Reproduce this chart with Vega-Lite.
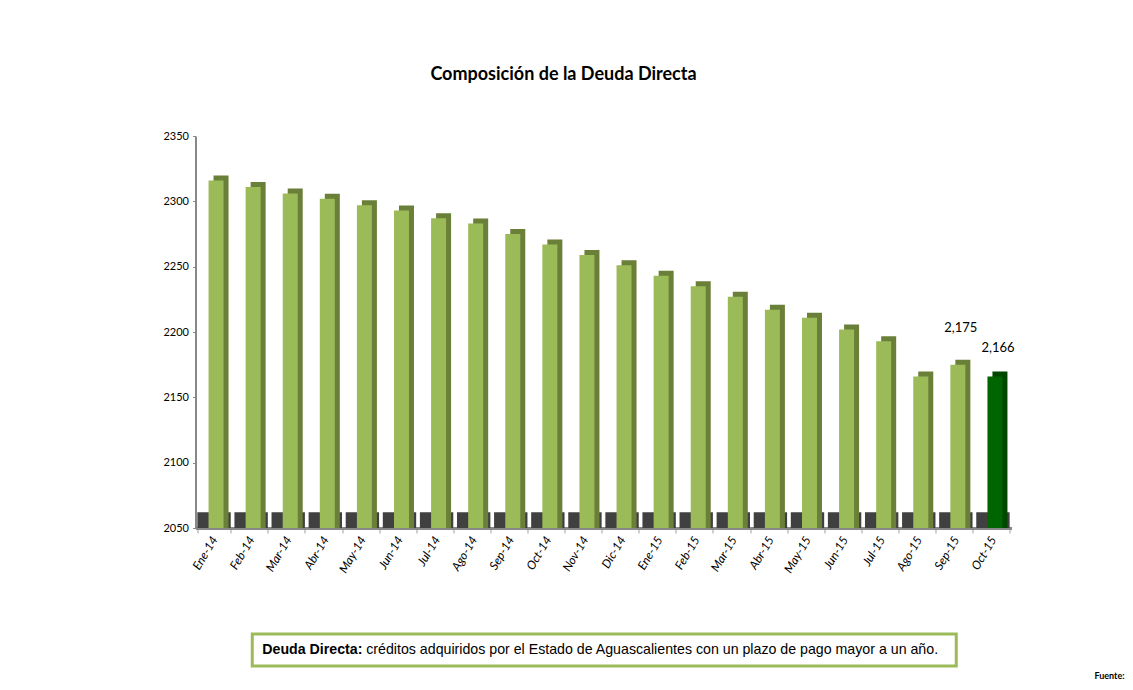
{
  "$schema": "https://vega.github.io/schema/vega-lite/v6.json",
  "padding": {"left": 162, "top": 66, "right": 5, "bottom": 5},
  "background": "white",
  "config": {"view": {"stroke": null}, "font": "Lato"},
  "datasets": {
    "deuda": [
      {"mes": "Ene-14", "valor": 2316},
      {"mes": "Feb-14", "valor": 2311},
      {"mes": "Mar-14", "valor": 2306},
      {"mes": "Abr-14", "valor": 2302},
      {"mes": "May-14", "valor": 2297},
      {"mes": "Jun-14", "valor": 2293},
      {"mes": "Jul-14", "valor": 2287},
      {"mes": "Ago-14", "valor": 2283},
      {"mes": "Sep-14", "valor": 2275},
      {"mes": "Oct-14", "valor": 2267},
      {"mes": "Nov-14", "valor": 2259},
      {"mes": "Dic-14", "valor": 2251},
      {"mes": "Ene-15", "valor": 2243},
      {"mes": "Feb-15", "valor": 2235},
      {"mes": "Mar-15", "valor": 2227},
      {"mes": "Abr-15", "valor": 2217},
      {"mes": "May-15", "valor": 2211},
      {"mes": "Jun-15", "valor": 2202},
      {"mes": "Jul-15", "valor": 2193},
      {"mes": "Ago-15", "valor": 2166},
      {"mes": "Sep-15", "valor": 2175},
      {"mes": "Oct-15", "valor": 2166}
    ],
    "nota": [
      {"negrita": "Deuda Directa:", "texto": "créditos adquiridos por el Estado de Aguascalientes con un plazo de pago mayor a un año."}
    ]
  },
  "title": {"text": "Fuente:", "font": "Lato", "orient": "bottom", "anchor": "end", "fontSize": 9, "fontWeight": "bold", "dx": 110, "offset": 4, "color": "#000000"},
  "vconcat": [
    {
      "width": 816,
      "height": 392,
      "data": {"name": "deuda"},
      "title": {"text": "Composición de la Deuda Directa", "font": "Lato", "fontSize": 18, "fontWeight": "bold", "anchor": "middle", "dx": -40, "offset": 46, "color": "#000000"},
      "layer": [
        {
          "mark": {"type": "bar", "color": "#404040"},
          "encoding": {
            "y": {"datum": 2050, "type": "quantitative"},
            "y2": {"datum": 2062}
          }
        },
        {
          "mark": {"type": "bar", "width": 15, "xOffset": 7, "yOffset": -5},
          "encoding": {
            "x": {"field": "mes", "type": "ordinal", "sort": null},
            "y": {"field": "valor", "type": "quantitative"},
            "y2": {"datum": 2050},
            "color": {"condition": {"test": "datum.mes === 'Oct-15'", "value": "#004800"}, "value": "#6a7f38"}
          }
        },
        {
          "mark": {"type": "bar", "width": 15, "xOffset": 2},
          "encoding": {
            "x": {"field": "mes", "type": "ordinal", "sort": null},
            "y": {"field": "valor", "type": "quantitative"},
            "y2": {"datum": 2050},
            "color": {"condition": {"test": "datum.mes === 'Oct-15'", "value": "#006400"}, "value": "#9bbb59"}
          }
        },
        {
          "transform": [{"filter": "datum.mes === 'Sep-15'"}],
          "mark": {"type": "text", "dy": -37, "dx": 5, "fontSize": 13, "color": "#000000"},
          "encoding": {
            "x": {"field": "mes", "type": "ordinal", "sort": null},
            "y": {"field": "valor", "type": "quantitative"},
            "text": {"field": "valor", "type": "quantitative", "format": ","}
          }
        },
        {
          "transform": [{"filter": "datum.mes === 'Oct-15'"}],
          "mark": {"type": "text", "dy": -28, "dx": 5, "fontSize": 13, "color": "#000000"},
          "encoding": {
            "x": {"field": "mes", "type": "ordinal", "sort": null},
            "y": {"field": "valor", "type": "quantitative"},
            "text": {"field": "valor", "type": "quantitative", "format": ","}
          }
        }
      ],
      "encoding": {
        "x": {
          "field": "mes", "type": "ordinal", "sort": null,
          "axis": {
            "title": null, "labelAngle": -59, "labelAlign": "right", "labelBaseline": "middle",
            "labelFontStyle": "italic", "labelFontSize": 12, "labelPadding": 4, "labelColor": "#000000",
            "tickBand": "extent", "tickColor": "#a0a0a0", "tickSize": 5,
            "domainColor": "#888888", "domainWidth": 3
          }
        },
        "y": {
          "type": "quantitative",
          "scale": {"domain": [2050, 2350], "nice": false, "zero": false},
          "axis": {
            "title": null, "values": [2050, 2100, 2150, 2200, 2250, 2300, 2350], "format": "d", "grid": false,
            "labelFontSize": 11, "labelColor": "#000000", "labelPadding": 4,
            "tickSize": 3, "tickColor": "#888888", "domainColor": "#888888", "domainWidth": 2
          }
        }
      }
    },
    {
      "width": 704,
      "height": 32,
      "view": {"stroke": "#9bbb59", "strokeWidth": 3},
      "data": {"name": "nota"},
      "layer": [
        {
          "mark": {"type": "text", "font": "Liberation Sans", "align": "left", "dx": -342, "fontSize": 14.2, "fontWeight": "bold", "color": "#000000"},
          "encoding": {"text": {"field": "negrita", "type": "nominal"}}
        },
        {
          "mark": {"type": "text", "font": "Liberation Sans", "align": "left", "dx": -238, "fontSize": 14.2, "color": "#000000"},
          "encoding": {"text": {"field": "texto", "type": "nominal"}}
        }
      ]
    }
  ],
  "spacing": 57,
  "center": true
}
